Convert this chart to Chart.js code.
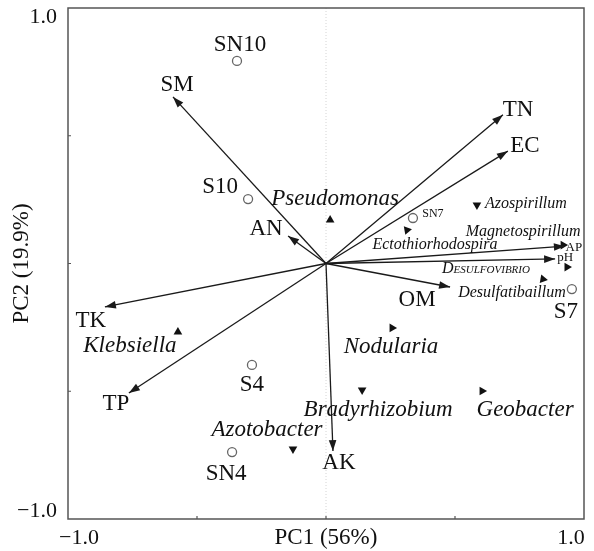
<!DOCTYPE html>
<html>
<head>
<meta charset="utf-8">
<script src="https://cdn.jsdelivr.net/npm/chart.js@4"></script>
<style>
  html, body { margin: 0; padding: 0; background: #fff; }
  #wrap { width: 594px; height: 551px; }
</style>
</head>
<body>
<div id="wrap"><canvas id="biplot"></canvas></div>
<script>
// environmental variables (arrows)
const VARS    = ['SM', 'TN', 'EC', 'AP', 'pH', 'OM', 'AN', 'TK', 'TP', 'AK'];
const VAR_PC1 = [-0.593, 0.686, 0.705, 0.926, 0.888, 0.481, -0.147, -0.857, -0.764, 0.027];
const VAR_PC2 = [0.652, 0.582, 0.440, 0.068, 0.018, -0.092, 0.108, -0.170, -0.507, -0.734];

// samples (open circles)
const SAMPLES    = ['SN10', 'S10', 'SN7', 'S7', 'S4', 'SN4'];
const SAMPLE_PC1 = [-0.345, -0.302, 0.337, 0.953, -0.287, -0.364];
const SAMPLE_PC2 = [0.793, 0.252, 0.178, -0.100, -0.397, -0.738];

// genera (filled triangles)
const GENERA    = ['Pseudomonas', 'Azospirillum', 'Ectothiorhodospira', 'Magnetospirillum', 'Desulfovibrio',
                   'Desulfatibaillum', 'Nodularia', 'Klebsiella', 'Bradyrhizobium', 'Geobacter', 'Azotobacter'];
const GENUS_PC1 = [0.016, 0.585, 0.314, 0.919, 0.934, 0.841, 0.256, -0.574, 0.140, 0.605, -0.128];
const GENUS_PC2 = [0.170, 0.229, 0.131, 0.072, -0.014, -0.061, -0.252, -0.268, -0.495, -0.499, -0.726];

const AXIS_TICKS = [-1, -0.5, 0, 0.5, 1];
const X_TITLE = 'PC1 (56%)';
const Y_TITLE = 'PC2 (19.9%)';

// label placement / styling (pixels, kept apart from the data)
const SERIF = '"Liberation Serif", "Times New Roman", serif';
const VAR_OFF   = [[4, -12], [15, -5], [17, -5], [9, 1], [10, -1], [-33, 13], [-22, -7], [-14, 14], [-13, 11], [6, 12]];
const VAR_SIZE  = [23, 23, 23, 13, 13, 23, 23, 23, 23, 23];
const SAMPLE_OFF  = [[3, -16], [-28, -12], [20, -4], [-6, 23], [0, 20], [-6, 22]];
const SAMPLE_SIZE = [23, 23, 12, 23, 23, 23];
const GENUS_OFF  = [[5, -21], [49, -1], [28, 15], [-40, -13], [-81, 2], [-31, 14], [-1, 19], [-48, 14], [16, 20], [43, 19], [-26, -19]];
const GENUS_SIZE = [23, 16, 16, 16, 16, 16, 23, 23, 23, 23, 23];
const GENUS_ROT  = [0, 180, 200, 90, 90, 100, -30, 0, 180, -30, 180];

const LINE = '#1a1a1a';

const arrowSets = VARS.map((v, i) => ({
  label: v,
  data: [{ x: 0, y: 0 }, { x: VAR_PC1[i], y: VAR_PC2[i] }],
  showLine: true,
  borderColor: LINE,
  borderWidth: 1.3,
  pointRadius: 0,
  clip: false
}));

const sampleSet = {
  label: 'samples',
  data: SAMPLES.map((s, i) => ({ x: SAMPLE_PC1[i], y: SAMPLE_PC2[i] })),
  pointStyle: 'circle',
  pointRadius: 4.5,
  borderWidth: 1.3,
  borderColor: '#666',
  backgroundColor: '#fff',
  clip: false
};

const genusSet = {
  label: 'genera',
  data: GENERA.map((g, i) => ({ x: GENUS_PC1[i], y: GENUS_PC2[i] })),
  pointStyle: 'triangle',
  pointRadius: 5,
  rotation: GENUS_ROT,
  borderWidth: 0,
  backgroundColor: '#111',
  borderColor: '#111',
  clip: false
};

const biplotDecor = {
  id: 'biplotDecor',
  beforeDatasetsDraw(chart) {
    const { ctx, chartArea: a, scales: { x, y } } = chart;
    ctx.save();
    ctx.strokeStyle = '#d4d4d4';
    ctx.lineWidth = 1;
    ctx.setLineDash([1, 2]);
    ctx.beginPath();
    ctx.moveTo(x.getPixelForValue(0), a.top);
    ctx.lineTo(x.getPixelForValue(0), a.bottom);
    ctx.stroke();
    ctx.restore();
  },
  afterDatasetsDraw(chart) {
    const { ctx, chartArea: a, scales: { x, y } } = chart;
    ctx.save();

    // arrowheads
    ctx.fillStyle = LINE;
    VARS.forEach((v, i) => {
      const x0 = x.getPixelForValue(0), y0 = y.getPixelForValue(0);
      const x1 = x.getPixelForValue(VAR_PC1[i]), y1 = y.getPixelForValue(VAR_PC2[i]);
      const ang = Math.atan2(y1 - y0, x1 - x0);
      const len = 11, half = 3.8;
      ctx.beginPath();
      ctx.moveTo(x1, y1);
      ctx.lineTo(x1 - len * Math.cos(ang) + half * Math.sin(ang), y1 - len * Math.sin(ang) - half * Math.cos(ang));
      ctx.lineTo(x1 - len * Math.cos(ang) - half * Math.sin(ang), y1 - len * Math.sin(ang) + half * Math.cos(ang));
      ctx.closePath();
      ctx.fill();
    });

    // frame
    ctx.strokeStyle = '#555';
    ctx.lineWidth = 1.5;
    ctx.strokeRect(a.left, a.top, a.right - a.left, a.bottom - a.top);

    // inward tick marks
    ctx.lineWidth = 1.2;
    AXIS_TICKS.slice(1, -1).forEach(t => {
      const px = x.getPixelForValue(t), py = y.getPixelForValue(t);
      ctx.beginPath();
      ctx.moveTo(px, a.bottom); ctx.lineTo(px, a.bottom - 3);
      ctx.moveTo(a.left, py); ctx.lineTo(a.left + 3, py);
      ctx.stroke();
    });

    // texts
    ctx.fillStyle = '#111';
    ctx.textBaseline = 'middle';
    ctx.textAlign = 'center';

    VARS.forEach((v, i) => {
      ctx.font = VAR_SIZE[i] + 'px ' + SERIF;
      ctx.fillText(v, x.getPixelForValue(VAR_PC1[i]) + VAR_OFF[i][0], y.getPixelForValue(VAR_PC2[i]) + VAR_OFF[i][1]);
    });
    SAMPLES.forEach((s, i) => {
      ctx.font = SAMPLE_SIZE[i] + 'px ' + SERIF;
      ctx.fillText(s, x.getPixelForValue(SAMPLE_PC1[i]) + SAMPLE_OFF[i][0], y.getPixelForValue(SAMPLE_PC2[i]) + SAMPLE_OFF[i][1]);
    });
    GENERA.forEach((g, i) => {
      const caps = g === 'Desulfovibrio' ? 'small-caps ' : '';
      ctx.font = 'italic ' + caps + GENUS_SIZE[i] + 'px ' + SERIF;
      ctx.fillText(g, x.getPixelForValue(GENUS_PC1[i]) + GENUS_OFF[i][0], y.getPixelForValue(GENUS_PC2[i]) + GENUS_OFF[i][1]);
    });

    // tick labels (only the ends are labelled)
    const lo = AXIS_TICKS[0], hi = AXIS_TICKS[AXIS_TICKS.length - 1];
    const fmt = v => (v < 0 ? '\u2212' : '') + Math.abs(v).toFixed(1);
    ctx.font = '22px ' + SERIF;
    ctx.textAlign = 'right';
    ctx.fillText(fmt(hi), a.left - 11, y.getPixelForValue(hi) + 9);
    ctx.fillText(fmt(lo), a.left - 11, y.getPixelForValue(lo) - 8);
    ctx.textAlign = 'center';
    ctx.fillText(fmt(lo), x.getPixelForValue(lo) + 11, a.bottom + 19);
    ctx.fillText(fmt(hi), x.getPixelForValue(hi) - 13, a.bottom + 19);

    // axis titles
    ctx.font = '23px ' + SERIF;
    ctx.fillText(X_TITLE, x.getPixelForValue(0), a.bottom + 19);
    ctx.translate(22, y.getPixelForValue(0));
    ctx.rotate(-Math.PI / 2);
    ctx.font = '23px ' + SERIF;
    ctx.fillText(Y_TITLE, 0, 0);
    ctx.restore();
  }
};

new Chart(document.getElementById('biplot'), {
  type: 'scatter',
  data: { datasets: [...arrowSets, sampleSet, genusSet] },
  options: {
    responsive: true,
    maintainAspectRatio: false,
    animation: false,
    layout: { padding: { top: 8, right: 10, left: 0, bottom: 0 } },
    plugins: { legend: { display: false }, tooltip: { enabled: false } },
    scales: {
      x: {
        type: 'linear', min: -1, max: 1,
        ticks: { display: false },
        grid: { display: false },
        border: { display: false },
        afterFit: s => { s.height = 32; }
      },
      y: {
        type: 'linear', min: -1, max: 1,
        ticks: { display: false },
        grid: { display: false },
        border: { display: false },
        afterFit: s => { s.width = 68; }
      }
    }
  },
  plugins: [biplotDecor]
});
</script>
</body>
</html>
